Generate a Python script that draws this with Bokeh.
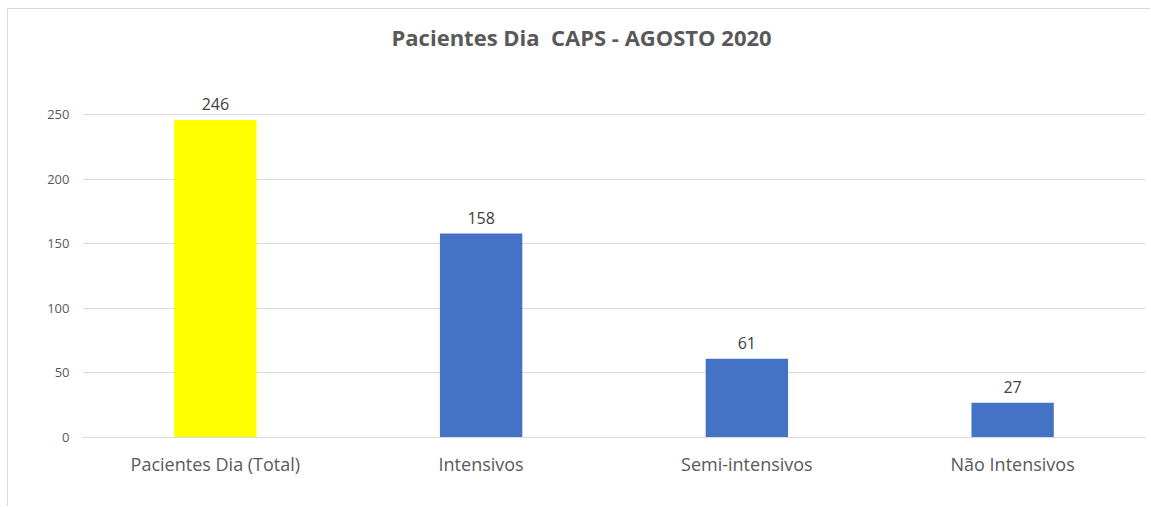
from bokeh.plotting import figure
from bokeh.models import ColumnDataSource, LabelSet, FixedTicker, Label
from bokeh.core.properties import value
from bokeh.embed import file_html
from bokeh.resources import INLINE

title_text = "Pacientes Dia\u00a0 CAPS - AGOSTO 2020"
categories = ["Pacientes Dia (Total)", "Intensivos", "Semi-intensivos", "Não Intensivos"]
values = [246, 158, 61, 27]
colors = ["#FFFF00", "#4472C4", "#4472C4", "#4472C4"]
y_ticks = [0, 50, 100, 150, 200, 250]

src = ColumnDataSource(dict(cat=categories, val=values, col=colors, lab=[str(v) for v in values]))

p = figure(x_range=categories, y_range=(0, 331.66), width=1143, height=498,
           output_backend="svg", toolbar_location=None,
           min_border_left=74, min_border_right=6, min_border_top=0, min_border_bottom=70)
p.styles = {"border-top": "1px solid #d9d9d9", "border-left": "1px solid #d9d9d9",
            "margin-top": "8px", "margin-left": "7px"}

title = Label(x=1.878, y=310.7, text=title_text, text_align="center",
              text_baseline="alphabetic", text_font="Open Sans", text_font_size="22px",
              text_font_style="bold", text_color="#595959")
p.add_layout(title)

p.vbar(x="cat", top="val", width=0.31, color="col", source=src, line_color=None)

labels = LabelSet(x="cat", y="val", text="lab", source=src, text_align="center",
                  text_baseline="bottom", y_offset=10, text_font_size=value("16px"),
                  text_color="#404040", text_font=value("Open Sans"))
p.add_layout(labels)

p.outline_line_color = None
p.xgrid.grid_line_color = None
p.ygrid.grid_line_color = "#d9d9d9"
p.ygrid.grid_line_width = 1

p.yaxis.ticker = FixedTicker(ticks=y_ticks)
p.yaxis.axis_line_color = None
p.yaxis.major_tick_line_color = None
p.yaxis.minor_tick_line_color = None
p.yaxis.major_tick_out = 0
p.yaxis.major_tick_in = 0
p.yaxis.major_label_text_font = "Open Sans"
p.yaxis.major_label_text_font_size = "13px"
p.yaxis.major_label_text_color = "#595959"
p.yaxis.major_label_standoff = 13

p.xaxis.axis_line_color = "#d9d9d9"
p.xaxis.major_tick_line_color = None
p.xaxis.minor_tick_line_color = None
p.xaxis.major_tick_out = 0
p.xaxis.major_tick_in = 0
p.xaxis.major_label_text_font = "Open Sans"
p.xaxis.major_label_text_font_size = "18px"
p.xaxis.major_label_text_color = "#595959"
p.xaxis.major_label_standoff = 14

open("out.html", "w").write(file_html(p, INLINE))
